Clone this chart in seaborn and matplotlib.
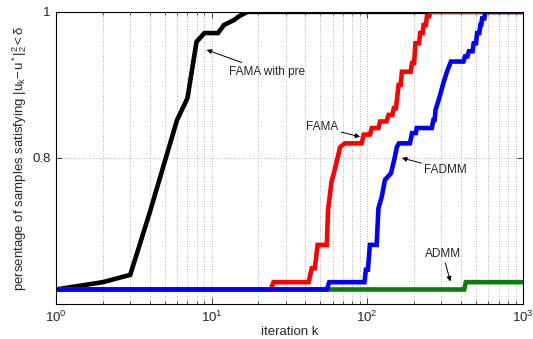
import numpy as np
import pandas as pd
import matplotlib
matplotlib.use("Agg")
import matplotlib.pyplot as plt
import seaborn as sns
from matplotlib.ticker import LogLocator, FixedLocator, NullFormatter

# ---- data (iteration, fraction of samples) ----
admm_iter = [1, 420, 430, 1000]
admm_val = [0.62, 0.62, 0.63, 0.63]

pre_iter = [1, 2, 3, 4, 5, 6, 7, 8, 9, 11, 12, 14, 15, 17, 1000]
pre_val = [0.62, 0.63, 0.64, 0.725, 0.795, 0.852, 0.882, 0.959, 0.971, 0.971,
           0.982, 0.989, 0.994, 1.0, 1.0]

fama_iter = [1, 24, 25, 42, 44, 46, 48, 55, 56, 59, 61, 67, 72, 92, 95, 104, 107,
             118, 121, 133, 137, 145, 148, 153, 155, 159, 164, 167, 190, 194, 200,
             204, 215, 219, 227, 230, 238, 242, 250, 254, 1000]
fama_val = [0.62, 0.62, 0.63, 0.63, 0.649, 0.649, 0.681, 0.681, 0.729, 0.768,
            0.779, 0.815, 0.82, 0.82, 0.832, 0.832, 0.841, 0.841, 0.85, 0.85,
            0.859, 0.859, 0.868, 0.868, 0.879, 0.9, 0.9, 0.918, 0.918, 0.93, 0.93,
            0.957, 0.957, 0.971, 0.971, 0.982, 0.982, 0.994, 0.994, 1.0, 1.0]

fadmm_iter = [1, 55, 57, 96, 98, 101, 104, 115, 118, 124, 130, 142, 150, 155,
              160, 188, 194, 205, 208, 260, 266, 271, 275, 292, 308, 325, 345,
              415, 425, 440, 450, 475, 483, 500, 508, 525, 533, 540, 547, 565,
              574, 1000]
fadmm_val = [0.62, 0.62, 0.63, 0.63, 0.647, 0.647, 0.681, 0.681, 0.731, 0.747,
             0.77, 0.779, 0.8, 0.815, 0.82, 0.82, 0.834, 0.834, 0.841, 0.841,
             0.852, 0.852, 0.866, 0.884, 0.902, 0.918, 0.932, 0.932, 0.939,
             0.939, 0.946, 0.946, 0.957, 0.957, 0.971, 0.971, 0.982, 0.982,
             0.991, 0.991, 1.0, 1.0]

y_ticks = [0.8, 1.0]
y_tick_labels = ["0.8", "1"]
x_ticks = [1, 10, 100, 1000]
x_tick_labels = ["$10^0$", "$10^1$", "$10^2$", "$10^3$"]

series = [
    ("ADMM", admm_iter, admm_val, "#0a7d0a"),
    ("FAMA with pre", pre_iter, pre_val, "#000000"),
    ("FAMA", fama_iter, fama_val, "#ff0000"),
    ("FADMM", fadmm_iter, fadmm_val, "#0000ff"),
]

sns.set_theme(style="white")
plt.rcParams["font.family"] = ["Liberation Sans", "DejaVu Sans"]
plt.rcParams["mathtext.fontset"] = "custom"
plt.rcParams["mathtext.rm"] = "Liberation Sans"
plt.rcParams["mathtext.it"] = "Liberation Sans"
plt.rcParams["mathtext.default"] = "regular"

fig = plt.figure(figsize=(5.33, 3.39), dpi=100)
ax = fig.add_axes([0.105, 0.103, 0.876, 0.862])

for name, xs, ys, col in series:
    df = pd.DataFrame({"iteration": xs, "value": ys})
    sns.lineplot(data=df, x="iteration", y="value", ax=ax, color=col,
                 linewidth=3.3, estimator=None, sort=False, solid_joinstyle="miter")

ax.set_xscale("log")
ax.set_xlim(1, 1000)
ax.set_ylim(0.6, 1.0)

ax.xaxis.set_major_locator(FixedLocator(x_ticks))
ax.set_xticklabels(x_tick_labels, fontsize=9.5)
ax.xaxis.set_minor_locator(LogLocator(base=10, subs=np.arange(2, 10)))
ax.xaxis.set_minor_formatter(NullFormatter())
ax.set_yticks(y_ticks)
ax.set_yticklabels(y_tick_labels, fontsize=9.5)

ax.grid(True, which="major", axis="both", linestyle=(0, (1, 2)), color="#9a9a9a", linewidth=0.6)
ax.grid(True, which="minor", axis="x", linestyle=(0, (1, 2)), color="#9a9a9a", linewidth=0.6)

ax.tick_params(which="both", direction="in", top=True, right=True, bottom=True, left=True)
ax.tick_params(which="major", length=4, width=0.6, pad=4)
ax.tick_params(which="minor", length=2, width=0.5)
for s in ax.spines.values():
    s.set_color("black")
    s.set_linewidth(0.8)

ax.set_xlabel("iteration k", fontsize=9.5, labelpad=1)
ax.set_ylabel(r"persentage of samples satisfying $|u_k\!-\!u^*|_2^2 < \delta$", fontsize=9.5, labelpad=2)

ann = dict(arrowstyle="-|>", color="black", lw=0.7, mutation_scale=7, shrinkA=0, shrinkB=0)
ax.annotate("FAMA with pre", xy=(9.3, 0.948), xytext=(13, 0.918), fontsize=8.5,
            ha="left", va="center", arrowprops=ann)
ax.annotate("FAMA", xy=(90, 0.829), xytext=(51, 0.842), fontsize=8.5,
            ha="center", va="center", arrowprops=ann)
ax.annotate("FADMM", xy=(167, 0.800), xytext=(320, 0.784), fontsize=8.5,
            ha="center", va="center", arrowprops=ann)
ax.annotate("ADMM", xy=(342, 0.631), xytext=(306, 0.669), fontsize=8.5,
            ha="center", va="center", arrowprops=ann)

fig.savefig("out.png", dpi=100)
